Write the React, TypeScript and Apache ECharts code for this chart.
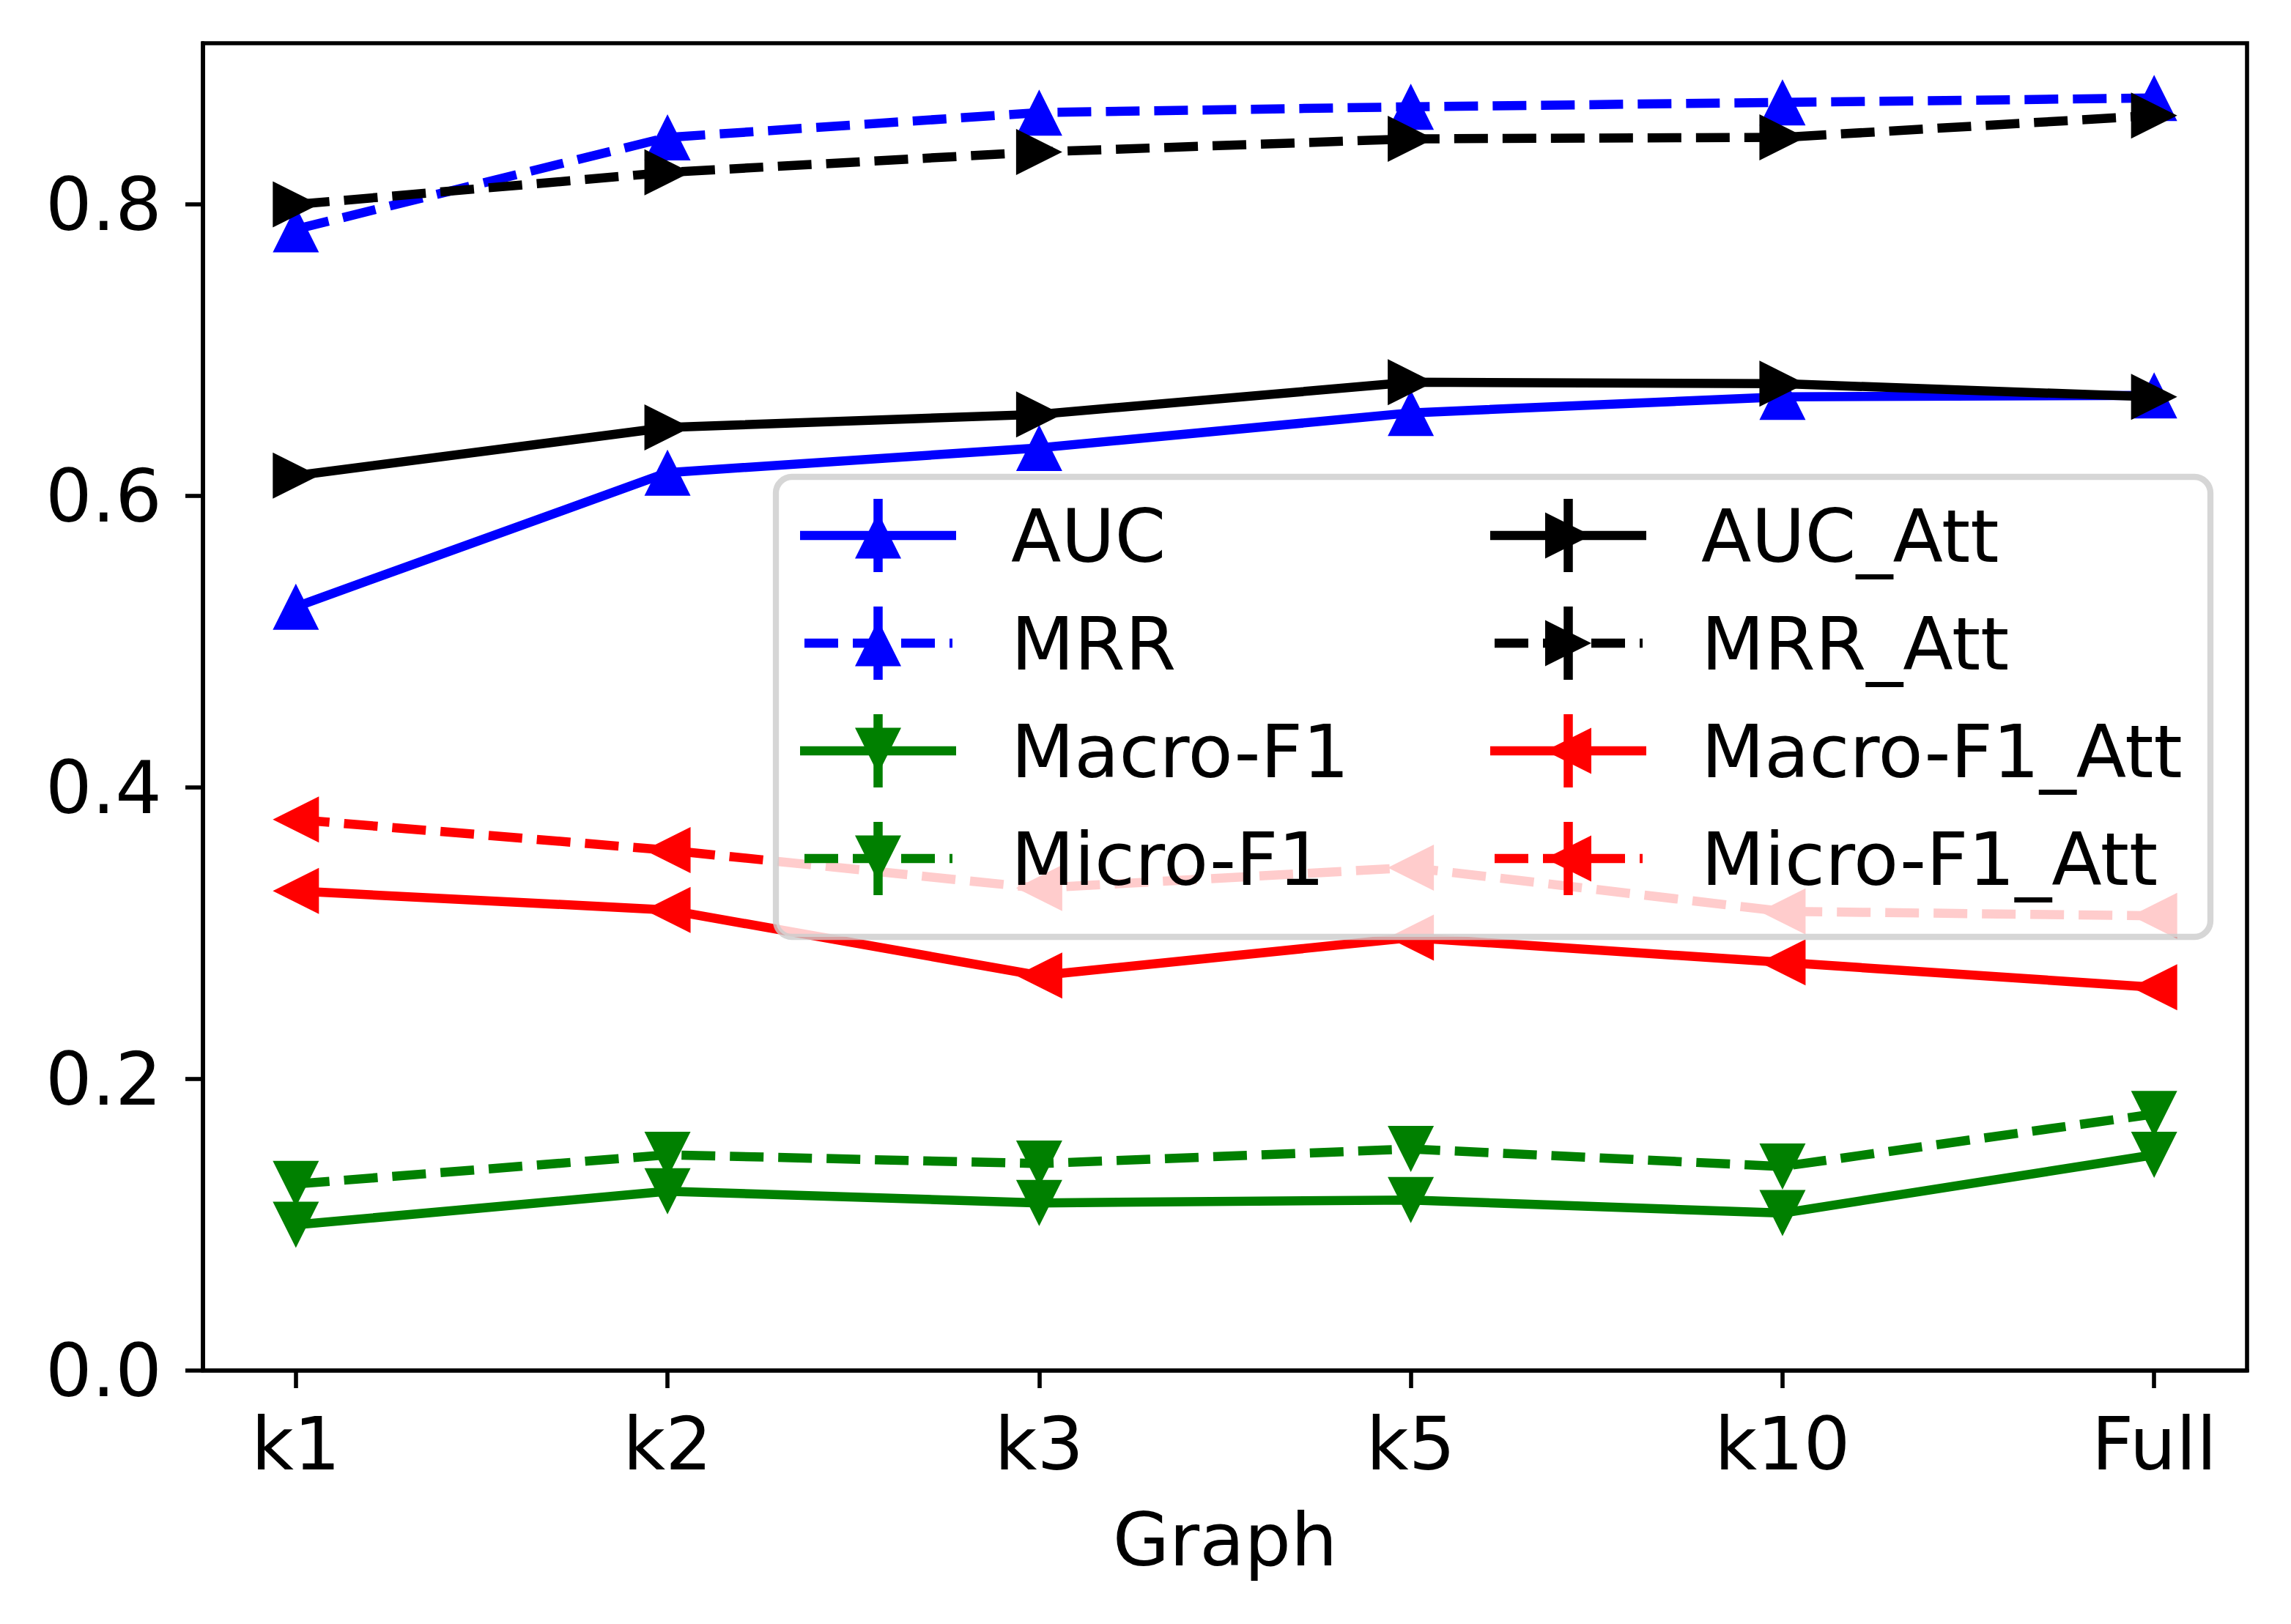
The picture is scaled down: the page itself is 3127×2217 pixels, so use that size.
import React, { useEffect, useRef } from "react";
import * as echarts from "echarts";

const categories = ["k1", "k2", "k3", "k5", "k10", "Full"];
const yTickValues = [0, 0.2, 0.4, 0.6, 0.8];

const auc = [0.524, 0.616, 0.633, 0.657, 0.668, 0.669];
const mrr = [0.783, 0.846, 0.863, 0.867, 0.87, 0.873];
const macroF1 = [0.1, 0.123, 0.115, 0.117, 0.108, 0.148];
const microF1 = [0.128, 0.148, 0.142, 0.152, 0.14, 0.176];
const aucAtt = [0.614, 0.647, 0.656, 0.678, 0.677, 0.668];
const mrrAtt = [0.8, 0.822, 0.836, 0.845, 0.846, 0.861];
const macroF1Att = [0.329, 0.316, 0.271, 0.297, 0.28, 0.263];
const microF1Att = [0.378, 0.357, 0.331, 0.345, 0.315, 0.312];

type Dir = "up" | "down" | "left" | "right";
const seriesDefs: { name: string; values: number[]; color: string; dashed: boolean; dir: Dir }[] = [
  { name: "AUC", values: auc, color: "#0000ff", dashed: false, dir: "up" },
  { name: "MRR", values: mrr, color: "#0000ff", dashed: true, dir: "up" },
  { name: "Macro-F1", values: macroF1, color: "#008000", dashed: false, dir: "down" },
  { name: "Micro-F1", values: microF1, color: "#008000", dashed: true, dir: "down" },
  { name: "AUC_Att", values: aucAtt, color: "#000000", dashed: false, dir: "right" },
  { name: "MRR_Att", values: mrrAtt, color: "#000000", dashed: true, dir: "right" },
  { name: "Macro-F1_Att", values: macroF1Att, color: "#ff0000", dashed: false, dir: "left" },
  { name: "Micro-F1_Att", values: microF1Att, color: "#ff0000", dashed: true, dir: "left" },
];

const FONT = "DejaVu Sans";
const FS = 100;
const LW = 12.5;
const DASH = [46, 20];
const MS = 63;
const rotateOf: Record<Dir, number> = { up: 0, down: 180, left: 90, right: -90 };

function triPoints(cx: number, cy: number, dir: Dir, s: number): number[][] {
  const h = s / 2;
  switch (dir) {
    case "up":
      return [[cx, cy - h], [cx - h, cy + h], [cx + h, cy + h]];
    case "down":
      return [[cx, cy + h], [cx - h, cy - h], [cx + h, cy - h]];
    case "left":
      return [[cx - h, cy], [cx + h, cy - h], [cx + h, cy + h]];
    default:
      return [[cx + h, cy], [cx - h, cy - h], [cx - h, cy + h]];
  }
}

function buildLegend(): any[] {
  const els: any[] = [];
  els.push({
    type: "rect",
    z: 100,
    shape: { x: 1059, y: 651, width: 1958, height: 628, r: 22 },
    style: { fill: "rgba(255,255,255,0.8)", stroke: "rgba(204,204,204,0.8)", lineWidth: 8.3 },
  });
  const colStarts = [1092, 2034];
  const textStarts = [1380, 2322];
  const rowCenters = [731, 878, 1025, 1172];
  seriesDefs.forEach((d, i) => {
    const col = Math.floor(i / 4);
    const row = i % 4;
    const x0 = colStarts[col];
    const x1 = x0 + 213;
    const cx = (x0 + x1) / 2;
    const cy = rowCenters[row];
    els.push({
      type: "line",
      z: 101,
      shape: d.dashed ? { x1: x0 + 6, y1: cy, x2: x1 - 5, y2: cy } : { x1: x0, y1: cy, x2: x1, y2: cy },
      style: { stroke: d.color, lineWidth: LW, lineDash: d.dashed ? DASH : null, lineCap: "butt" },
    });
    els.push({
      type: "line",
      z: 101,
      shape: { x1: cx, y1: cy - 50, x2: cx, y2: cy + 50 },
      style: { stroke: d.color, lineWidth: LW, lineCap: "butt" },
    });
    els.push({
      type: "polygon",
      z: 102,
      shape: { points: triPoints(cx, cy, d.dir, MS) },
      style: { fill: d.color },
    });
    els.push({
      type: "text",
      z: 102,
      x: textStarts[col],
      y: cy + 1.5,
      style: {
        text: d.name,
        fontFamily: FONT,
        fontSize: FS,
        fill: "#000",
        align: "left",
        verticalAlign: "middle",
      },
    });
  });
  return els;
}

export default function App() {
  const ref = useRef<HTMLDivElement>(null);
  useEffect(() => {
    document.body.style.margin = "0";
    const chart = echarts.init(ref.current!, null, { renderer: "svg" });
    const xIdx = categories.map((_, i) => i);
    const option: any = {
      animation: false,
      backgroundColor: "#ffffff",
      grid: {
        left: 277,
        right: 60,
        top: 59,
        bottom: 346,
        show: true,
        borderColor: "#000",
        borderWidth: 5.6,
        backgroundColor: "transparent",
      },
      xAxis: {
        type: "value",
        min: -0.25,
        max: 5.25,
        name: "Graph",
        nameLocation: "middle",
        nameGap: 181,
        nameTextStyle: { fontFamily: FONT, fontSize: FS, color: "#000", lineHeight: 100 },
        axisLine: { show: true, onZero: false, lineStyle: { color: "#000", width: 5.6 } },
        axisTick: { show: true, customValues: xIdx, length: 24, lineStyle: { color: "#000", width: 5.6 } },
        axisLabel: {
          customValues: xIdx,
          formatter: (v: number) => categories[Math.round(v)] ?? "",
          fontFamily: FONT,
          fontSize: FS,
          color: "#000",
          margin: 50,
          lineHeight: 100,
        },
        splitLine: { show: false },
      },
      yAxis: {
        type: "value",
        min: 0,
        max: 0.9106,
        axisLine: { show: true, onZero: false, lineStyle: { color: "#000", width: 5.6 } },
        axisTick: { show: true, customValues: yTickValues, length: 24, lineStyle: { color: "#000", width: 5.6 } },
        axisLabel: {
          customValues: yTickValues,
          formatter: (v: number) => v.toFixed(1),
          fontFamily: FONT,
          fontSize: FS,
          color: "#000",
          margin: 56,
          lineHeight: 100,
        },
        splitLine: { show: false },
      },
      series: seriesDefs.map((d) => ({
        name: d.name,
        type: "line",
        data: d.values.map((v, i) => [i, v]),
        symbol: "triangle",
        symbolSize: MS,
        symbolRotate: rotateOf[d.dir],
        showSymbol: true,
        showAllSymbol: true,
        lineStyle: { color: d.color, width: LW, type: d.dashed ? DASH : "solid", cap: "butt" },
        itemStyle: { color: d.color, borderWidth: 0 },
        emphasis: { disabled: true },
        z: 2,
      })),
      graphic: { elements: buildLegend() },
    };
    chart.setOption(option);
    return () => chart.dispose();
  }, []);
  return (
    <div
      ref={ref}
      style={{ position: "fixed", left: 0, top: 0, width: 3127, height: 2217, background: "#fff" }}
    />
  );
}
